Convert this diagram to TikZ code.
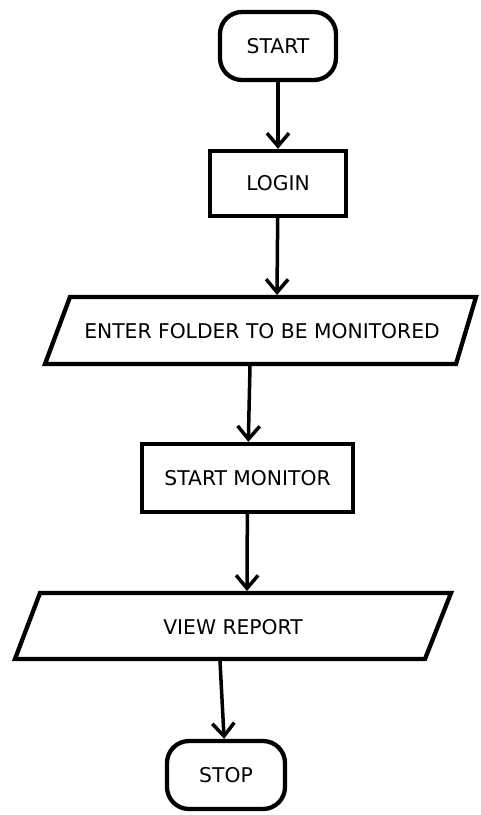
\documentclass[tikz,border=0pt]{standalone}
\usepackage{fontspec}
\setmainfont{DejaVu Sans}
\usetikzlibrary{arrows.meta}
\begin{document}
\begin{tikzpicture}[x=1pt,y=-1pt,
 box/.style={draw=black, line width=4.3pt, fill=white, inner sep=0pt, font=\fontsize{20.3}{24}\selectfont},
 term/.style={box, rounded corners=22pt},
 txt/.style={font=\fontsize{20.3}{24}\selectfont, inner sep=0pt},
 para/.style={draw=black, line width=4.3pt, fill=white},
 flow/.style={line width=3.5pt, -{Straight Barb[length=13pt,width=22pt]}}]
\useasboundingbox[fill=white] (0,0) rectangle (480,815);
% start
\node[term, minimum width=116pt, minimum height=68pt] (start) at (278,46) {START};
% login
\node[box, minimum width=136pt, minimum height=65pt] (login) at (278,183.5) {LOGIN};
% enter folder
\draw[para] (70,297) -- (476,297) -- (456,364) -- (45,364) -- cycle;
\node[txt] (enter) at (262,331) {ENTER FOLDER TO BE MONITORED};
\coordinate (enterT) at (277,295);
\coordinate (enterB) at (250,366);
% start monitor
\node[box, minimum width=211pt, minimum height=68pt] (monitor) at (247.5,478) {START MONITOR};
% view report
\draw[para] (40,593) -- (451,593) -- (425,659) -- (15,659) -- cycle;
\node[txt] (view) at (233,627) {VIEW REPORT};
\coordinate (viewT) at (247,591);
\coordinate (viewB) at (220,661);
% stop
\node[term, minimum width=118pt, minimum height=68pt] (stop) at (226,775) {STOP};
% connectors
\draw[flow] (start) -- (login);
\draw[flow] (login) -- (enterT);
\draw[flow] (enterB) -- (monitor);
\draw[flow] (monitor) -- (viewT);
\draw[flow] (viewB) -- (stop);
\end{tikzpicture}
\end{document}
